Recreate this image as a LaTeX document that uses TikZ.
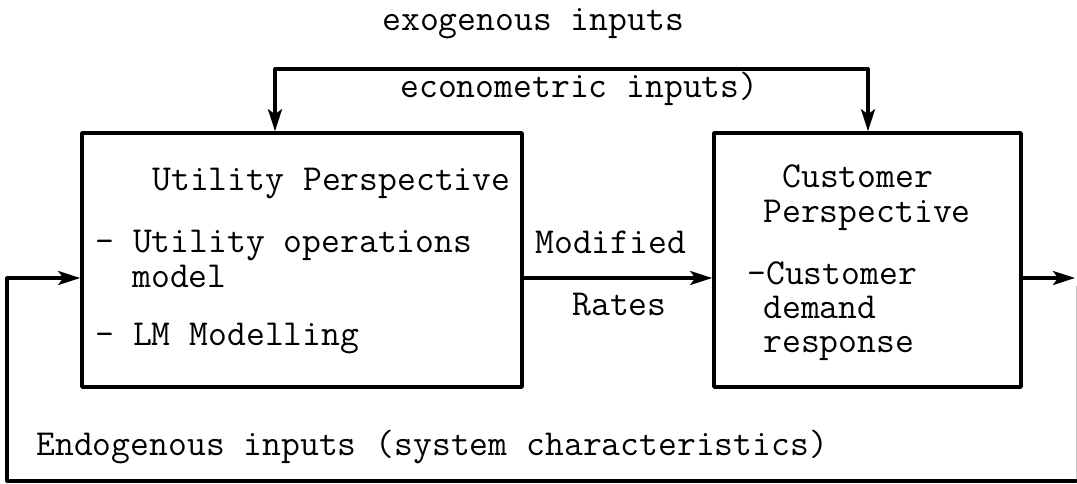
\documentclass[tikz,border=0pt]{standalone}
\usetikzlibrary{arrows.meta}

\begin{document}
\begin{tikzpicture}[x=0.5pt,y=-0.5pt,line cap=round,line join=round,
  box/.style={draw,line width=1.8pt,inner sep=0pt,minimum height=127pt},
  txt/.style={anchor=base west,inner sep=0pt,font=\ttfamily\fontsize{18.3}{22}\selectfont},
  wire/.style={line width=1.6pt},
  flow/.style={wire,-{Stealth[length=11pt,width=7pt,inset=2.5pt]}}]
  \useasboundingbox (0,0) rectangle (1077,483);
  % two blocks
  \node[box,minimum width=220pt] (util) at (302,260) {};
  \node[box,minimum width=153.5pt] (cust) at (867.5,260) {};
  % labels above
  \node[txt] (exo) at (382,30) {exogenous inputs};
  \node[txt] (econ) at (400,97) {econometric inputs)};
  % utility block text
  \node[txt] (uhead) at (152,190) {Utility Perspective};
  \node[txt] (uops) at (95,252) {- Utility operations};
  \node[txt] (umodel) at (132,287) {model};
  \node[txt] (ulm) at (95,345) {- LM Modelling};
  % customer block text
  \node[txt] (chead) at (782,187) {Customer};
  \node[txt] (cpersp) at (763,222) {Perspective};
  \node[txt] (cdem) at (747,284) {-Customer};
  \node[txt] (cdemand) at (763,318) {demand};
  \node[txt] (cresp) at (763,352) {response};
  % rates between the blocks
  \node[txt] (mod) at (535,253) {Modified};
  \node[txt] (rates) at (572,315) {Rates};
  \node[txt] (endo) at (36,455) {Endogenous inputs (system characteristics)};
  % helper points
  \coordinate (feedL) at (275,69);
  \coordinate (feedR) at (868,69);
  \coordinate (midY) at (0,278);
  \coordinate (out) at (1075,278);
  \coordinate (loopR) at (1076,481);
  \coordinate (loopL) at (7,481);
  % top feed into both blocks
  \draw[flow] (feedR) -- (feedL) -- (feedL |- util.north);
  \draw[flow] (feedR) -- (feedR |- cust.north);
  % modified rates
  \draw[flow] (util.east |- midY) -- (cust.west |- midY);
  % output and return loop
  \draw[flow] (cust.east |- midY) -- (out);
  \draw[gray!45,line width=0.5pt] (out) ++(1,8) -- (loopR);
  \draw[flow] (loopR) -- (loopL) -- (loopL |- midY) -- (util.west |- midY);
\end{tikzpicture}
\end{document}
